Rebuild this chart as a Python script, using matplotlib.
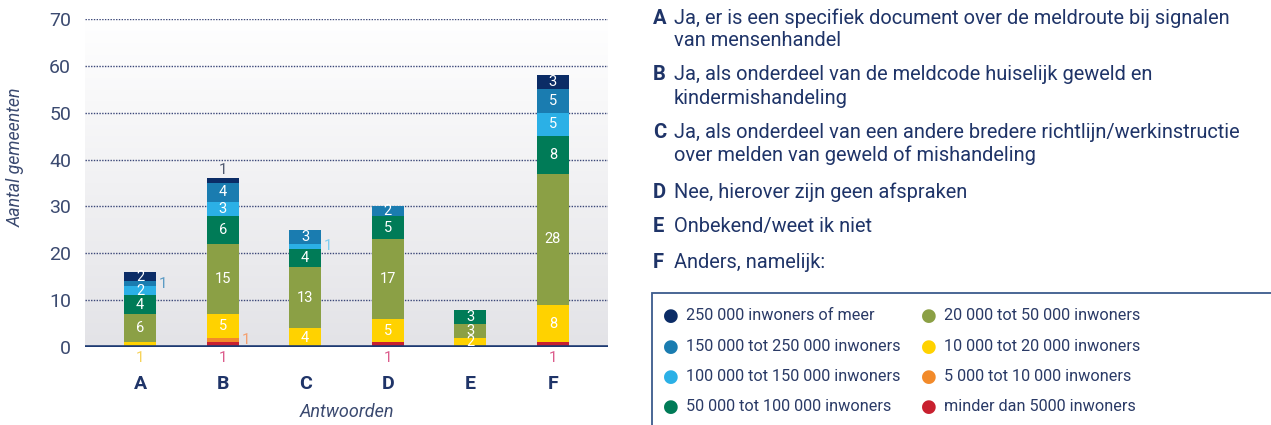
import numpy as np
import matplotlib
matplotlib.use("Agg")
import matplotlib.pyplot as plt
from matplotlib.patches import Rectangle
from matplotlib.colors import LinearSegmentedColormap

plt.rcParams['font.family'] = ['Roboto', 'DejaVu Sans']

categories = ["A", "B", "C", "D", "E", "F"]
series_names = [
    "minder dan 5000 inwoners",
    "5 000 tot 10 000 inwoners",
    "10 000 tot 20 000 inwoners",
    "20 000 tot 50 000 inwoners",
    "50 000 tot 100 000 inwoners",
    "100 000 tot 150 000 inwoners",
    "150 000 tot 250 000 inwoners",
    "250 000 inwoners of meer",
]
v_lt5k      = [0, 1, 0, 1, 0, 1]
v_5k_10k    = [0, 1, 0, 0, 0, 0]
v_10k_20k   = [1, 5, 4, 5, 2, 8]
v_20k_50k   = [6, 15, 13, 17, 3, 28]
v_50k_100k  = [4, 6, 4, 5, 3, 8]
v_100k_150k = [2, 3, 1, 0, 0, 5]
v_150k_250k = [1, 4, 3, 2, 0, 5]
v_250k      = [2, 1, 0, 0, 0, 3]
series_values = [v_lt5k, v_5k_10k, v_10k_20k, v_20k_50k, v_50k_100k,
                 v_100k_150k, v_150k_250k, v_250k]
colors = ["#c8202f", "#f28a2a", "#ffd200", "#8ba045", "#007b57",
          "#2bb0e6", "#1a7cb0", "#0b2c66"]
label_colors = ["#dc5c8c", "#f4a070", "#f7d35a", "#a9b86a", "#3d9a7c",
                "#7fcdf0", "#5c9bc4", "#505a70"]

answers = [
    ("A", ["Ja, er is een specifiek document over de meldroute bij signalen",
           "van mensenhandel"]),
    ("B", ["Ja, als onderdeel van de meldcode huiselijk geweld en",
           "kindermishandeling"]),
    ("C", ["Ja, als onderdeel van een andere bredere richtlijn/werkinstructie",
           "over melden van geweld of mishandeling"]),
    ("D", ["Nee, hierover zijn geen afspraken"]),
    ("E", ["Onbekend/weet ik niet"]),
    ("F", ["Anders, namelijk:"]),
]
yticks = [0, 10, 20, 30, 40, 50, 60, 70]

W, H = 1271, 425
fig = plt.figure(figsize=(W / 100, H / 100), dpi=100)
def fx(px): return px / W
def fy(py): return 1 - py / H

ax = fig.add_axes([fx(85), fy(347), fx(608) - fx(85), fy(19) - fy(347)])
navy = "#1f3468"

# gradient background
grad = np.linspace(1, 0, 256).reshape(-1, 1)
cmap = LinearSegmentedColormap.from_list("g", ["#e3e3e7", "#ffffff"])
ax.imshow(grad, extent=[0, 1, 0, 1], transform=ax.transAxes, cmap=cmap,
          aspect="auto", zorder=0, origin="upper")

x = np.arange(len(categories))
bw = 0.39
bottom = np.zeros(len(categories))
tops = np.sum(np.array(series_values), axis=0)
for si, vals in enumerate(series_values):
    vals = np.array(vals, dtype=float)
    ax.bar(x, vals, bw, bottom=bottom, color=colors[si], zorder=3,
           edgecolor="none")
    for ci, v in enumerate(vals):
        if v <= 0:
            continue
        yc = bottom[ci] + v / 2
        if v >= 2:
            ax.text(x[ci], yc, f"{int(v)}", ha="center", va="center",
                    color="white", fontsize=10.5, zorder=5)
        else:
            lowest = bottom[ci] == 0
            topmost = bottom[ci] + v >= tops[ci]
            if lowest:
                ax.annotate(f"{int(v)}", (x[ci], 0), xytext=(0, -8),
                            textcoords="offset points", ha="center", va="center",
                            color=label_colors[si], fontsize=11,
                            annotation_clip=False)
            elif topmost:
                ax.annotate(f"{int(v)}", (x[ci], bottom[ci] + v), xytext=(0, 6),
                            textcoords="offset points", ha="center", va="center",
                            color=label_colors[si], fontsize=11)
            else:
                ax.annotate(f"{int(v)}", (x[ci] + bw / 2, yc), xytext=(5, 0),
                            textcoords="offset points", ha="center", va="center",
                            color=label_colors[si], fontsize=11)
    bottom += vals

ax.set_xlim(-0.667, len(categories) - 1 + 0.667)
ax.set_ylim(0, 70)
for yv in yticks[1:]:
    ax.axhline(yv, color="#3a4677", lw=1.0, ls=(0, (1, 1)), zorder=1)
ax.axhline(0, color="#1d3a72", lw=2.6, zorder=4)
for s in ax.spines.values():
    s.set_visible(False)
ax.set_yticks(yticks)
ax.set_yticklabels([str(v) for v in yticks], color="#3b4a70", fontsize=14)
ax.set_xticks(x)
ax.set_xticklabels(categories, color=navy, fontsize=14, fontweight="bold")
ax.tick_params(axis="both", length=0)
ax.tick_params(axis="y", pad=10)
ax.tick_params(axis="x", pad=20)
ax.set_ylabel("Aantal gemeenten", fontstyle="italic", color="#3b4a70",
              fontsize=12.8)
ax.yaxis.set_label_coords(-0.115, 0.578)
ax.set_xlabel("Antwoorden", fontstyle="italic", color="#3b4a70",
              fontsize=13)
ax.xaxis.set_label_coords(0.5, -0.171)

# answer list
ys = [18, 75, 132, 192, 227, 263]
for (letter, lines), y0 in zip(answers, ys):
    fig.text(fx(653), fy(y0), letter, fontsize=14.5, fontweight="bold",
             color=navy, va="center", ha="left")
    for li, line in enumerate(lines):
        fig.text(fx(674), fy(y0 + 23 * li), line, fontsize=14.4,
                 color=navy, va="center", ha="left")

# legend box
box = Rectangle((fx(652), fy(430)), fx(1290) - fx(652), fy(293) - fy(430),
                transform=fig.transFigure, fill=False, edgecolor="#3c5a8c",
                lw=1.3, clip_on=False)
fig.patches.append(box)
legend_order = [7, 6, 5, 4, 3, 2, 1, 0]
rows_y = [316, 346.5, 376.5, 406.5]
for k, si in enumerate(legend_order):
    col, row = divmod(k, 4)
    dotx = 671 if col == 0 else 929
    txtx = 686 if col == 0 else 944
    fig.text(fx(dotx), fy(rows_y[row]), "\u25CF", color=colors[si],
             fontsize=13, ha="center", va="center", family="DejaVu Sans")
    fig.text(fx(txtx), fy(rows_y[row]), series_names[si], color="#2a3a66",
             fontsize=11.7, ha="left", va="center")

fig.savefig("out.png", dpi=100)
